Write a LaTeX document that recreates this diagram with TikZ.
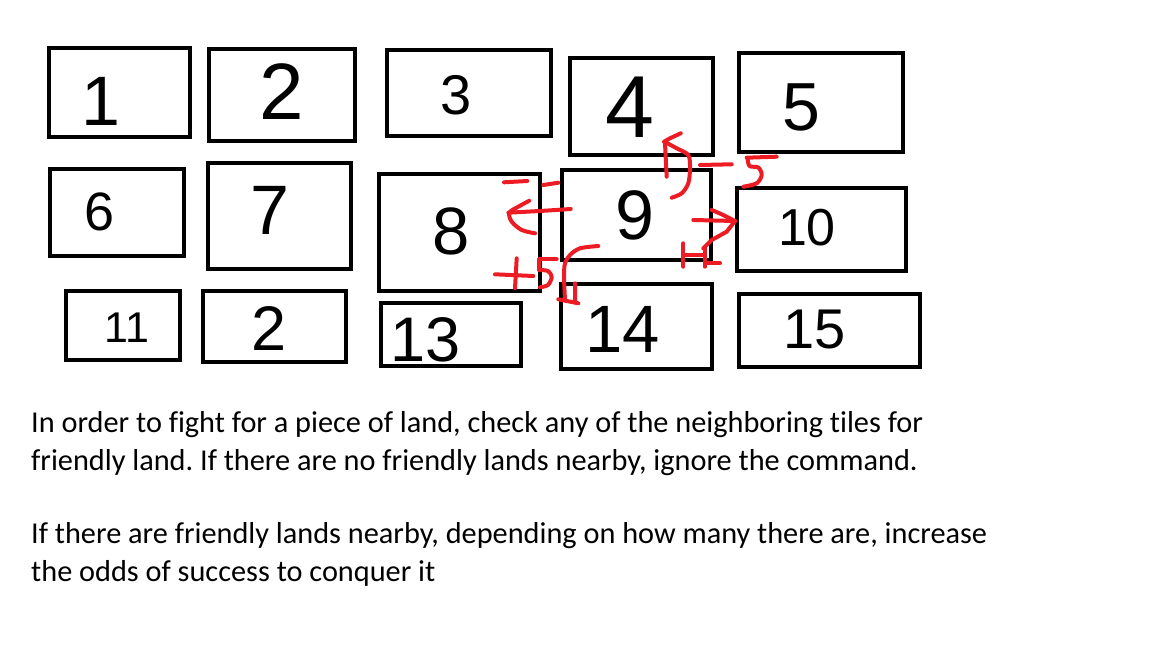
\documentclass[tikz,border=0pt]{standalone}
\usepackage{fontspec}
\setmainfont{Carlito}[Ligatures={NoCommon}]
\newfontfamily\digitfont{Liberation Sans}
\usepackage{tikz}
\usetikzlibrary{arrows.meta}
\definecolor{inkred}{RGB}{237,28,36}
\frenchspacing

\begin{document}
\begin{tikzpicture}[x=1pt,y=-1pt,
		tile/.style 2 args={draw,line width=4pt,minimum width=#1pt,minimum height=#2pt,inner sep=0pt},
		num/.style={font=\digitfont\fontsize{#1}{#1}\selectfont,inner sep=0pt},
		redink/.style={draw=inkred,line width=4pt,line cap=round,line join=round},
		note/.style={anchor=base west,inner sep=0pt,font=\fontsize{30.3}{38}\selectfont}]
	\useasboundingbox[fill=white] (0,0) rectangle (1152,648);
	% tiles
	\node[tile={141}{89}]  (t1)  at (119.5,92.5) {};
	\node[tile={146}{92}]  (t2)  at (282,95) {};
	\node[tile={164}{86}]  (t3)  at (469,93) {};
	\node[tile={143}{97}]  (t4)  at (641.5,106.5) {};
	\node[tile={164}{99}]  (t5)  at (821,102.5) {};
	\node[tile={134}{87}]  (t6)  at (117,212.5) {};
	\node[tile={143}{106}] (t7)  at (279.5,216) {};
	\node[tile={161}{117}] (t8)  at (459.5,232.5) {};
	\node[tile={149}{90}]  (t9)  at (636.5,215) {};
	\node[tile={169}{83}]  (t10) at (821.5,229.5) {};
	\node[tile={114}{69}]  (t11) at (123,325.5) {};
	\node[tile={143}{71}]  (t12) at (274.5,326.5) {};
	\node[tile={140}{63}]  (t13) at (451,334.5) {};
	\node[tile={151}{85}]  (t14) at (636.5,326.5) {};
	\node[tile={181}{73}]  (t15) at (829.5,330.5) {};
	% numbers
	\node[num=70] (n1)  at (101,101) {1};
	\node[num=80] (n2)  at (282,92)  {2};
	\node[num=56] (n3)  at (456,95)  {3};
	\node[num=88] (n4)  at (630,107) {4};
	\node[num=68] (n5)  at (801,107) {5};
	\node[num=54] (n6)  at (100,212) {6};
	\node[num=70] (n7)  at (270,210) {7};
	\node[num=67] (n8)  at (451,231) {8};
	\node[num=70] (n9)  at (635,215) {9};
	\node[num=52] (n10) at (807,228) {10};
	\node[num=43] (n11) at (127,328) {11};
	\node[num=63] (n12) at (269,329) {2};
	\node[num=63] (n13) at (426,340) {13};
	\node[num=67] (n14) at (623,329) {14};
	\node[num=56] (n15) at (815,330) {15};
	% red marks round 9
	\draw[redink] plot[smooth] coordinates {(671.7,197.7) (681.7,193.3) (688.3,183.3) (690,168.3) (688.3,155) (676.7,148.3) (666,142.5)};
	\draw[redink] (666.7,176.7) -- (665,143.3);
	\draw[redink] (664,141.7) -- (670,138.3) -- (680.7,133.3);
	\draw[redink] (700,165) -- (731.7,164.3);
	\draw[redink] (746.7,157.7) -- (776.7,156.7);
	\draw[redink] plot[smooth] coordinates {(747.5,158) (749.5,166) (758.3,167.5) (761.7,175) (756.7,183.3) (743.3,186.7)};
	\draw[redink] (504,182.3) -- (527.3,181);
	\draw[redink] (543.3,185) -- (558.3,182.7);
	\draw[redink] (570.7,209) -- (545,210.7) -- (508.3,212.7);
	\draw[redink] plot[smooth] coordinates {(529.3,200.7) (518.3,206.7) (509.3,212.7) (511.7,221.7) (521.7,230) (535,233.3)};
	\draw[redink] (693.3,220) -- (735,221);
	\draw[redink] (711.7,210) -- (721.7,214.3) -- (735,221);
	\draw[redink] (735,221) -- (726.7,231.7) -- (711.7,240) -- (703.3,248.3);
	\draw[redink] (683.3,243.3) -- (683.3,266.7) (683.3,255) -- (703.3,255);
	\draw[redink] (705,248.3) -- (705,266.7) (705,263.3) -- (720,263.3);
	\draw[redink] (495,274.3) -- (533.3,276) (516.7,258.3) -- (515,288.3);
	\draw[redink] (556.7,259.3) -- (539.3,259.3) -- (539.3,270);
	\draw[redink] plot[smooth] coordinates {(539.3,270) (548,271) (551.7,277) (548,285) (540,287.3)};
	\draw[redink] plot[smooth] coordinates {(598.3,246) (580,248.3) (570,255) (565,263.3) (564,276.7) (565,300)};
	\draw[redink] (575,283.3) -- (575,301.7) (558.3,299.3) -- (578.3,303.3);
	% text
	\node[note] (l1) at (31,432) {In order to fight for a piece of land, check any of the neighboring tiles for};
	\node[note] (l2) at (31,470) {friendly land. If there are no friendly lands nearby, ignore the command.};
	\node[note] (l3) at (31,543) {If there are friendly lands nearby, depending on how many there are, increase};
	\node[note] (l4) at (31,581) {the odds of success to conquer it};
\end{tikzpicture}
\end{document}
